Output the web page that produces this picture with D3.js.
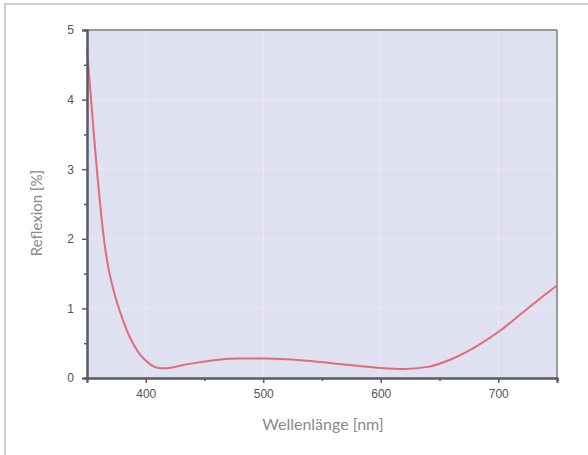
<!DOCTYPE html>
<html><head><meta charset="utf-8">
<script src="https://cdn.jsdelivr.net/npm/d3@7"></script>
<style>
html,body{margin:0;padding:0;background:#fff;}
svg{display:block;font-family:Lato,"Open Sans",sans-serif;}
</style></head>
<body>
<script>
const wavelengths = [350,353,356,359,362,365,368,372,376,380,385,390,395,400,405,410,415,420,430,440,460,480,500,520,540,560,580,600,620,640,660,680,700,720,740,750];
const reflexion   = [4.72,4.1,3.47,2.88,2.36,1.92,1.6,1.3,1.06,0.86,0.64,0.47,0.34,0.25,0.18,0.148,0.14,0.145,0.18,0.21,0.26,0.28,0.28,0.27,0.245,0.21,0.175,0.145,0.13,0.16,0.27,0.44,0.66,0.93,1.2,1.33];
const xMajorTicks = [400,500,600,700];
const xMinorTicks = [450,550,650,750];
const yMajorTicks = [0,1,2,3,4,5];
const yMinorTicks = [0.5,1.5,2.5,3.5,4.5];
const xTitle = "Wellenlänge [nm]";
const yTitle = "Reflexion [%]";

const W = 588, H = 455;
const m = {left:87, right:31, top:30, bottom:77};
const svg = d3.select("body").append("svg").attr("width",W).attr("height",H);

svg.append("line").attr("x1",5).attr("x2",5).attr("y1",4).attr("y2",H).attr("stroke","#cfcfcf").attr("stroke-width",2);
svg.append("line").attr("x1",4).attr("x2",W).attr("y1",4).attr("y2",4).attr("stroke","#cfcfcf").attr("stroke-width",2);

const x = d3.scaleLinear().domain([350,750]).range([m.left, W-m.right]);
const y = d3.scaleLinear().domain([0,5]).range([H-m.bottom, m.top]);

svg.append("rect").attr("x",x(350)).attr("y",y(5)).attr("width",x(750)-x(350)).attr("height",y(0)-y(5)).attr("fill","#dfe0f0");

const g = svg.append("g");
g.selectAll("line.vx").data(xMajorTicks).join("line")
  .attr("x1",d=>x(d)).attr("x2",d=>x(d)).attr("y1",y(5)).attr("y2",y(0))
  .attr("stroke","#fff").attr("stroke-opacity",0.35).attr("stroke-width",1);
g.selectAll("line.hy").data(yMajorTicks.slice(1,5)).join("line")
  .attr("x1",x(350)).attr("x2",x(750)).attr("y1",d=>y(d)).attr("y2",d=>y(d))
  .attr("stroke","#fff").attr("stroke-opacity",0.35).attr("stroke-width",1);

svg.append("line").attr("x1",x(350)).attr("x2",x(750)).attr("y1",y(5)).attr("y2",y(5)).attr("stroke","#999").attr("stroke-width",2);
svg.append("line").attr("x1",x(750)).attr("x2",x(750)).attr("y1",y(5)).attr("y2",y(0)).attr("stroke","#999").attr("stroke-width",2);

const line = d3.line().x((d,i)=>x(wavelengths[i])).y(d=>y(d)).curve(d3.curveMonotoneX);
svg.append("path").datum(reflexion).attr("d",line).attr("fill","none")
  .attr("stroke","#e36b78").attr("stroke-width",2);

const xAxis = svg.append("g").attr("transform",`translate(0,${y(0)})`)
  .call(d3.axisBottom(x).tickValues(xMajorTicks).tickSize(5).tickPadding(6).tickFormat(d3.format("d")));
const xMinor = svg.append("g").attr("transform",`translate(0,${y(0)})`)
  .call(d3.axisBottom(x).tickValues(xMinorTicks).tickSize(3).tickFormat(""));
const yAxis = svg.append("g").attr("transform",`translate(${x(350)},0)`)
  .call(d3.axisLeft(y).tickValues(yMajorTicks).tickSize(5).tickPadding(8).tickFormat(d3.format("d")));
const yMinor = svg.append("g").attr("transform",`translate(${x(350)},0)`)
  .call(d3.axisLeft(y).tickValues(yMinorTicks).tickSize(3).tickFormat(""));
[xAxis,xMinor,yAxis,yMinor].forEach(a=>{
  a.select(".domain").attr("stroke","#5a5a66").attr("stroke-width",2);
  a.selectAll(".tick line").attr("stroke","#5a5a66").attr("stroke-width",1.5);
  a.selectAll(".tick text").attr("fill","#555").style("font-size","12px");
});

svg.append("text").attr("x",323).attr("y",430).attr("text-anchor","middle")
  .attr("fill","#8a8a8a").style("font-size","16px").text(xTitle);
svg.append("text").attr("transform","translate(42,213) rotate(-90)").attr("text-anchor","middle")
  .attr("fill","#8a8a8a").style("font-size","15px").text(yTitle);
</script>
</body></html>
